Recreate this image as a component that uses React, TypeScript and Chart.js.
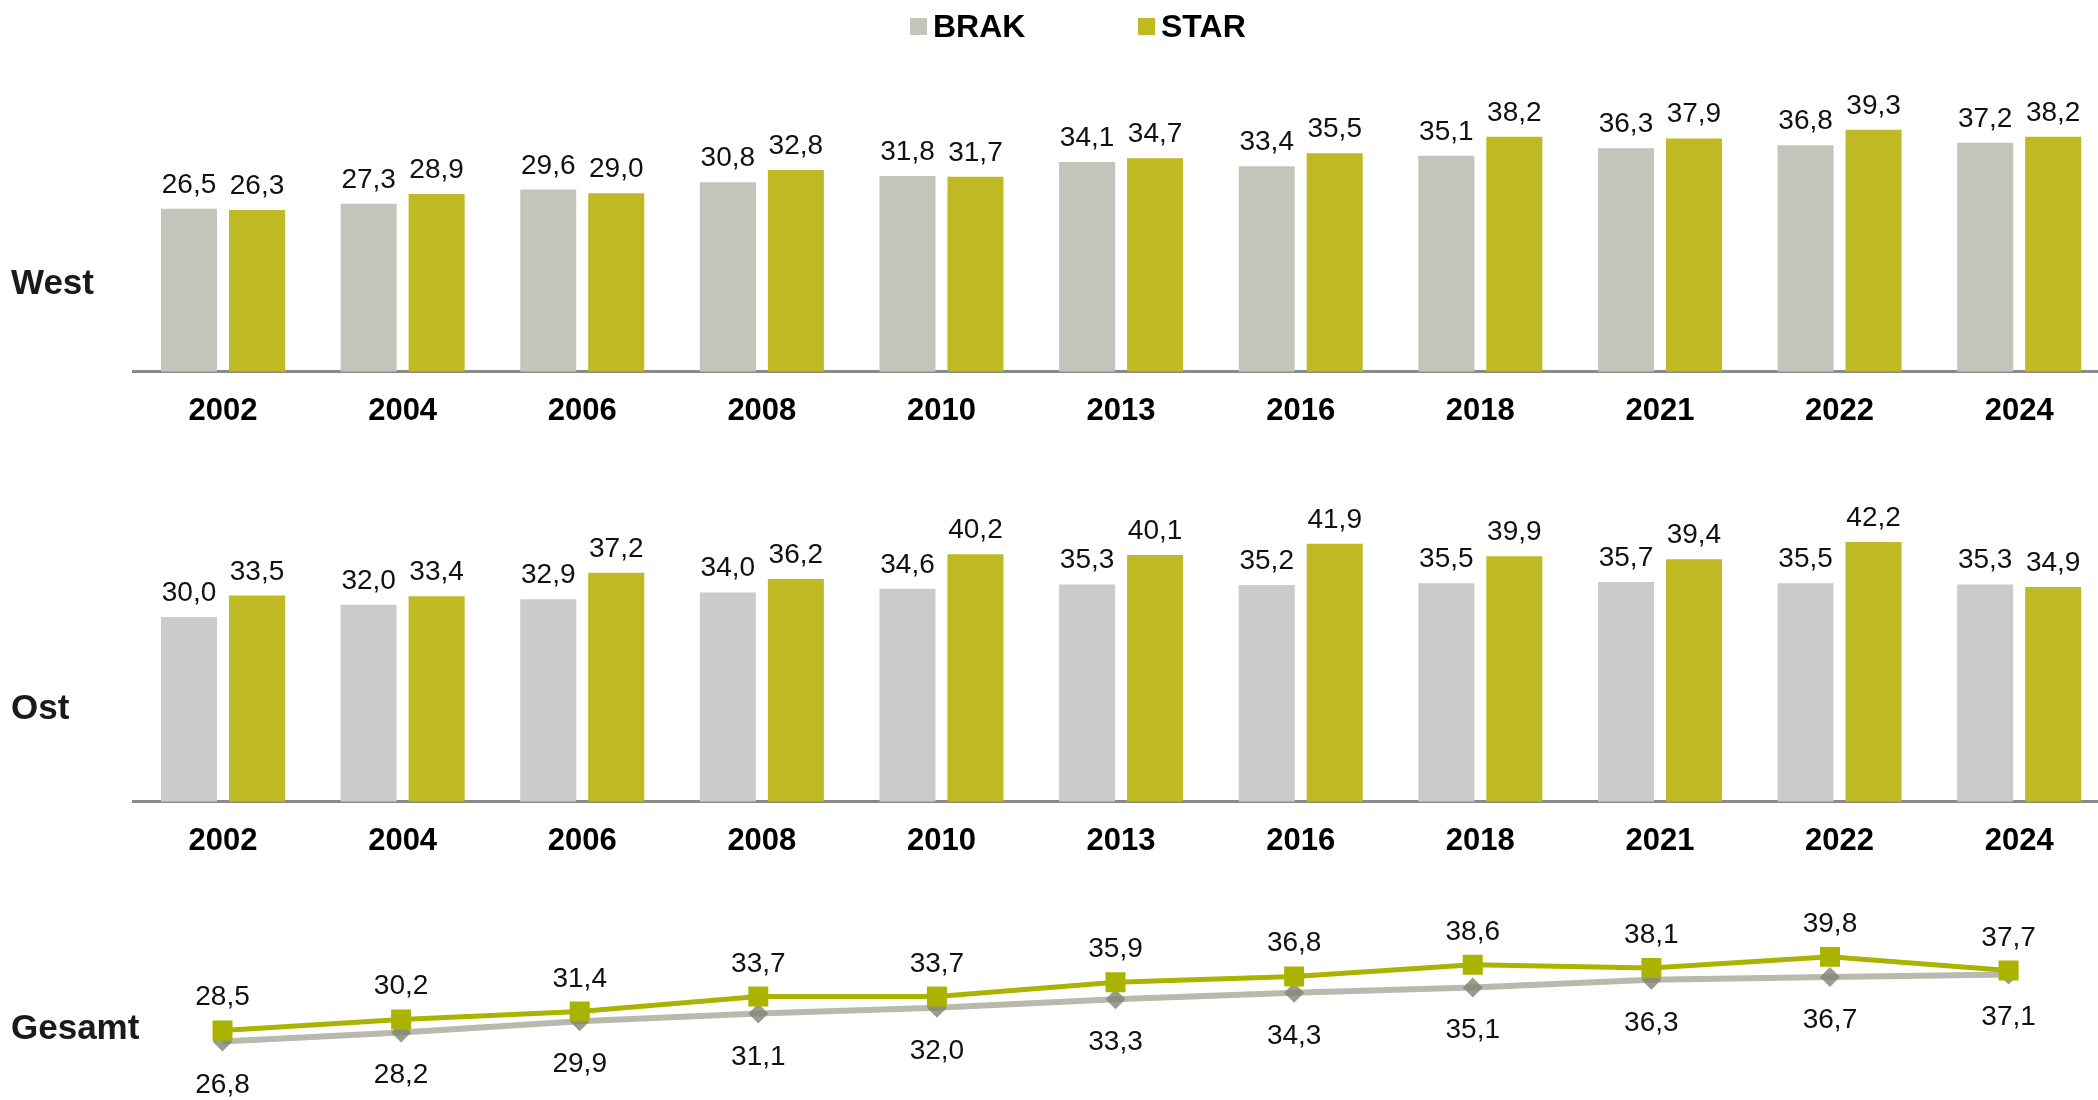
import React, { useEffect, useRef } from "react";
import { Chart, registerables } from "chart.js";

Chart.register(...registerables);

// ---------- data ----------
const years = ["2002", "2004", "2006", "2008", "2010", "2013", "2016", "2018", "2021", "2022", "2024"];
const westBrak = [26.5, 27.3, 29.6, 30.8, 31.8, 34.1, 33.4, 35.1, 36.3, 36.8, 37.2];
const westStar = [26.3, 28.9, 29.0, 32.8, 31.7, 34.7, 35.5, 38.2, 37.9, 39.3, 38.2];
const ostBrak = [30.0, 32.0, 32.9, 34.0, 34.6, 35.3, 35.2, 35.5, 35.7, 35.5, 35.3];
const ostStar = [33.5, 33.4, 37.2, 36.2, 40.2, 40.1, 41.9, 39.9, 39.4, 42.2, 34.9];
const gesamtStar = [28.5, 30.2, 31.4, 33.7, 33.7, 35.9, 36.8, 38.6, 38.1, 39.8, 37.7];
const gesamtBrak = [26.8, 28.2, 29.9, 31.1, 32.0, 33.3, 34.3, 35.1, 36.3, 36.7, 37.1];
const seriesNames = ["BRAK", "STAR"];
const panelNames = ["West", "Ost", "Gesamt"];

// ---------- styling ----------
const FONT = "'Liberation Sans', Arial, Helvetica, sans-serif";
const CANVAS_W = 2112;
const PAD_LEFT = 133.2;
const PAD_RIGHT = CANVAS_W - 2109;
const BRAK_WEST = "#C4C4BA";
const BRAK_OST = "#CBCBCB";
const STAR_BAR = "#BFB924";
const STAR_LINE = "#AAB400";
const BRAK_LINE = "#B9B9AE";

const fmt = (v: number) => v.toFixed(1).replace(".", ",");

const valueLabels = {
  id: "valueLabels",
  afterDatasetsDraw(chart: any) {
    const ctx = chart.ctx;
    ctx.save();
    ctx.font = `28px ${FONT}`;
    ctx.fillStyle = "#111111";
    ctx.textAlign = "center";
    ctx.textBaseline = "alphabetic";
    chart.data.datasets.forEach((ds: any, i: number) => {
      const meta = chart.getDatasetMeta(i);
      meta.data.forEach((el: any, j: number) => {
        ctx.fillText(fmt(ds.data[j]), el.x, el.y + ds.labelDy);
      });
    });
    ctx.restore();
  },
};

function barConfig(brak: number[], star: number[], brakColor: string): any {
  return {
    type: "bar",
    data: {
      labels: years,
      datasets: [
        {
          label: seriesNames[0],
          data: brak,
          backgroundColor: brakColor,
          categoryPercentage: 0.757,
          barPercentage: 0.824,
          labelDy: -16,
        },
        {
          label: seriesNames[1],
          data: star,
          backgroundColor: STAR_BAR,
          categoryPercentage: 0.757,
          barPercentage: 0.824,
          labelDy: -16,
        },
      ],
    },
    options: {
      responsive: false,
      animation: false,
      devicePixelRatio: 1,
      layout: { padding: { left: PAD_LEFT, right: PAD_RIGHT, top: 64, bottom: 0 } },
      plugins: { legend: { display: false }, tooltip: { enabled: false } },
      scales: {
        x: {
          grid: { display: false, drawTicks: false },
          border: { display: true, color: "#8A8A8A", width: 3 },
          ticks: {
            color: "#000000",
            padding: 21,
            font: { family: FONT, size: 31, weight: "bold" },
          },
        },
        y: { display: false, min: 0, max: 50 },
      },
    },
    plugins: [valueLabels],
  };
}

function lineConfig(): any {
  return {
    type: "line",
    data: {
      labels: years,
      datasets: [
        {
          label: seriesNames[1],
          data: gesamtStar,
          borderColor: STAR_LINE,
          backgroundColor: STAR_LINE,
          borderWidth: 5,
          pointStyle: "rect",
          pointRadius: 14.14,
          pointBackgroundColor: STAR_LINE,
          pointBorderWidth: 0,
          tension: 0,
          order: 0,
          labelDy: -25,
        },
        {
          label: seriesNames[0],
          data: gesamtBrak,
          borderColor: BRAK_LINE,
          backgroundColor: BRAK_LINE,
          borderWidth: 6,
          pointStyle: "rectRot",
          pointRadius: 10,
          pointBackgroundColor: "rgba(130,130,115,0.8)",
          pointBorderWidth: 0,
          tension: 0,
          order: 1,
          labelDy: 51,
        },
      ],
    },
    options: {
      responsive: false,
      animation: false,
      devicePixelRatio: 1,
      layout: { padding: { left: PAD_LEFT, right: PAD_RIGHT, top: 43, bottom: 8.25 } },
      plugins: { legend: { display: false }, tooltip: { enabled: false } },
      scales: {
        x: { display: false, offset: true },
        y: { display: false, min: 20, max: 45 },
      },
    },
    plugins: [valueLabels],
  };
}

function ChartCanvas({ config, top, height }: { config: () => any; top: number; height: number }) {
  const ref = useRef<HTMLCanvasElement | null>(null);
  useEffect(() => {
    if (!ref.current) return;
    const chart = new Chart(ref.current, config());
    return () => chart.destroy();
  }, []);
  return (
    <canvas
      ref={ref}
      width={CANVAS_W}
      height={height}
      style={{ position: "absolute", left: 0, top, width: CANVAS_W, height }}
    />
  );
}

const panelLabelStyle = (centerY: number): React.CSSProperties => ({
  position: "absolute",
  left: 11,
  top: centerY,
  transform: "translateY(-50%)",
  font: `bold 35px ${FONT}`,
  lineHeight: 1,
  color: "#1a1a1a",
  whiteSpace: "nowrap",
});

const legendText = (left: number): React.CSSProperties => ({
  position: "absolute",
  left,
  top: 26,
  transform: "translateY(-50%)",
  font: `bold 32px ${FONT}`,
  lineHeight: 1,
  color: "#000",
  whiteSpace: "nowrap",
});

const legendBox = (left: number, color: string): React.CSSProperties => ({
  position: "absolute",
  left,
  top: 18,
  width: 17,
  height: 17,
  background: color,
});

export default function App() {
  return (
    <div
      style={{
        position: "fixed",
        left: 0,
        top: 0,
        width: 2098,
        height: 1100,
        overflow: "hidden",
        background: "#ffffff",
      }}
    >
      <ChartCanvas config={() => barConfig(westBrak, westStar, BRAK_WEST)} top={0} height={451} />
      <ChartCanvas config={() => barConfig(ostBrak, ostStar, BRAK_OST)} top={430} height={451} />
      <ChartCanvas config={lineConfig} top={880} height={220} />

      <div style={legendBox(910, BRAK_WEST)} />
      <div style={legendText(933)}>{seriesNames[0]}</div>
      <div style={legendBox(1138, STAR_BAR)} />
      <div style={legendText(1161)}>{seriesNames[1]}</div>

      <div style={panelLabelStyle(281)}>{panelNames[0]}</div>
      <div style={panelLabelStyle(706)}>{panelNames[1]}</div>
      <div style={panelLabelStyle(1026)}>{panelNames[2]}</div>
    </div>
  );
}
